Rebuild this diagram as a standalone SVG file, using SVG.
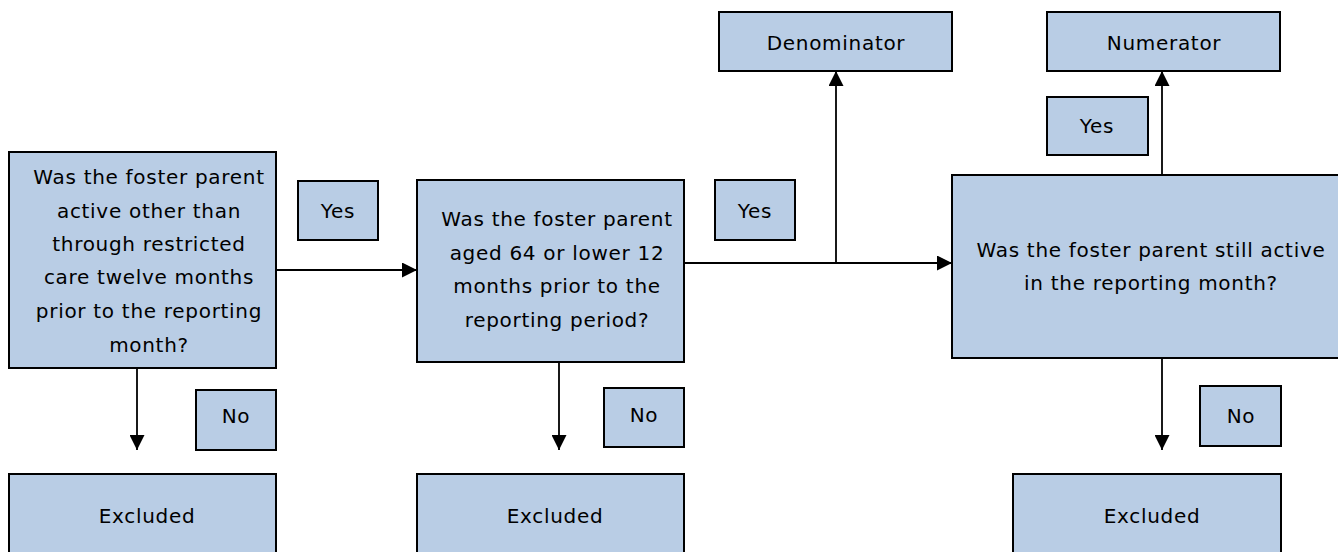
<svg xmlns="http://www.w3.org/2000/svg" width="1338" height="552" viewBox="0 0 1338 552">
<style>
.box{fill:#b9cde5;stroke:#000;stroke-width:2}
.t{font-family:"DejaVu Sans",sans-serif;font-size:20px;letter-spacing:0.7px;fill:#000;text-anchor:middle}
.c{fill:none;stroke:#000;stroke-width:1.8}
</style>
<defs>
<marker id="ah" viewBox="0 0 10 10" refX="10" refY="5" markerWidth="15" markerHeight="15" markerUnits="userSpaceOnUse" orient="auto">
<path d="M0,0 L10,5 L0,10 Z" fill="#000"/>
</marker>
</defs>
<rect width="1338" height="552" fill="#fff"/>
<g id="connectors">
<path class="c" d="M276,270 H417" marker-end="url(#ah)"/>
<path class="c" d="M684,263 H952" marker-end="url(#ah)"/>
<path class="c" d="M836,263 V71" marker-end="url(#ah)"/>
<path class="c" d="M1162,175 V71" marker-end="url(#ah)"/>
<path class="c" d="M137,368 V450" marker-end="url(#ah)"/>
<path class="c" d="M559,362 V450" marker-end="url(#ah)"/>
<path class="c" d="M1162,358 V450" marker-end="url(#ah)"/>
</g>
<g id="q1">
<rect class="box" x="9" y="152" width="267" height="216"/>
<text class="t" x="149" y="184">Was the foster parent</text>
<text class="t" x="149" y="218">active other than</text>
<text class="t" x="149" y="251">through restricted</text>
<text class="t" x="149" y="284">care twelve months</text>
<text class="t" x="149" y="318">prior to the reporting</text>
<text class="t" x="149" y="352">month?</text>
</g>
<g id="yes1">
<rect class="box" x="298" y="181" width="80" height="59"/>
<text class="t" x="338" y="218">Yes</text>
</g>
<g id="q2">
<rect class="box" x="417" y="180" width="267" height="182"/>
<text class="t" x="557" y="226">Was the foster parent</text>
<text class="t" x="557" y="260">aged 64 or lower 12</text>
<text class="t" x="557" y="293">months prior to the</text>
<text class="t" x="557" y="327">reporting period?</text>
</g>
<g id="yes2">
<rect class="box" x="715" y="180" width="80" height="60"/>
<text class="t" x="755" y="218">Yes</text>
</g>
<g id="q3">
<rect class="box" x="952" y="175" width="387" height="183"/>
<text class="t" x="1151" y="257">Was the foster parent still active</text>
<text class="t" x="1151" y="290">in the reporting month?</text>
</g>
<g id="denominator">
<rect class="box" x="719" y="12" width="233" height="59"/>
<text class="t" x="836" y="50">Denominator</text>
</g>
<g id="numerator">
<rect class="box" x="1047" y="12" width="233" height="59"/>
<text class="t" x="1164" y="50">Numerator</text>
</g>
<g id="yes3">
<rect class="box" x="1047" y="97" width="101" height="58"/>
<text class="t" x="1097" y="133">Yes</text>
</g>
<g id="no1">
<rect class="box" x="196" y="390" width="80" height="60"/>
<text class="t" x="236" y="423">No</text>
</g>
<g id="no2">
<rect class="box" x="604" y="388" width="80" height="59"/>
<text class="t" x="644" y="422">No</text>
</g>
<g id="no3">
<rect class="box" x="1200" y="386" width="81" height="60"/>
<text class="t" x="1241" y="423">No</text>
</g>
<g id="excl1">
<rect class="box" x="9" y="474" width="267" height="82"/>
<text class="t" x="147" y="523">Excluded</text>
</g>
<g id="excl2">
<rect class="box" x="417" y="474" width="267" height="82"/>
<text class="t" x="555" y="523">Excluded</text>
</g>
<g id="excl3">
<rect class="box" x="1013" y="474" width="268" height="82"/>
<text class="t" x="1152" y="523">Excluded</text>
</g>
</svg>
